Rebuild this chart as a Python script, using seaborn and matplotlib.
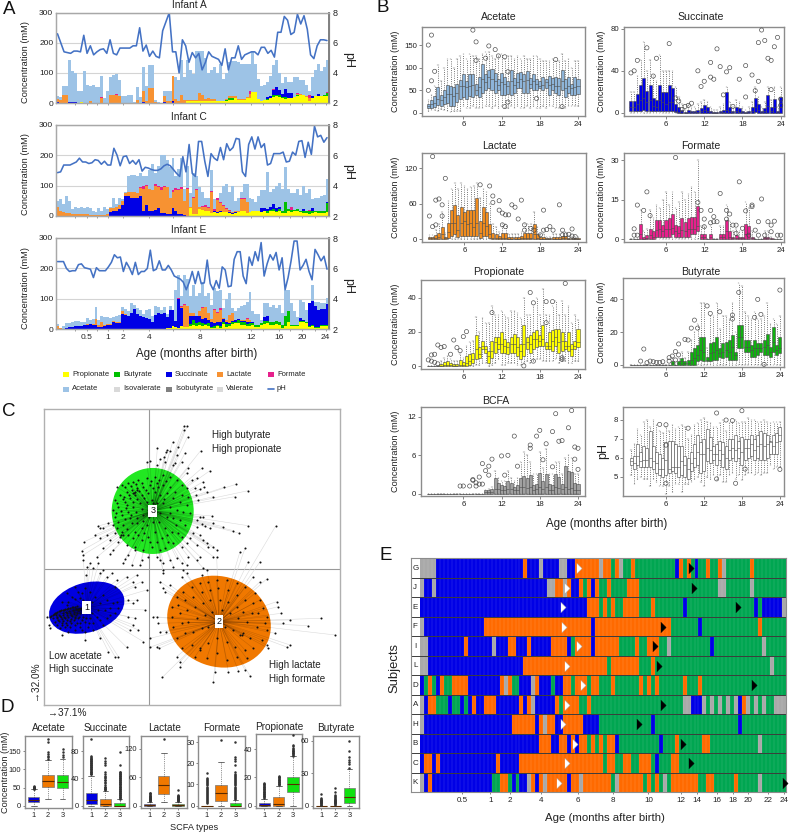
import numpy as np
import pandas as pd
import matplotlib
matplotlib.use('Agg')
import matplotlib.pyplot as plt
from matplotlib import font_manager
from matplotlib.collections import LineCollection
from matplotlib.colors import ListedColormap
from matplotlib.lines import Line2D
from matplotlib.patches import Ellipse, Rectangle
import seaborn as sns

W, H = 789, 833
sns.set_style('white')
# the figure's text is condensed; use the narrow cut when it is installed
installed = {f.name for f in font_manager.fontManager.ttflist}
NARROW = 'Liberation Sans Narrow' in installed
plt.rcParams['font.family'] = ['Liberation Sans Narrow', 'DejaVu Sans'] if NARROW else ['Liberation Sans', 'DejaVu Sans']
FS = 1.16 if NARROW else 1.0

Z10 = [0] * 10

# ---- panel A: stacked daily concentrations, three infants
total_A = [22,20,58,55,143,105,100,40,40,107, 60,58,60,52,52,90,15,40,88,92,
           95,75,22,24,26,26,2,54,20,120, 55,127,127,10,2,1,40,40,40,90,
           85,78,143,85,143,110,95,172,172,172, 150,100,110,120,100,130,80,100,135,140,
           140,135,130,130,130,130,170,130,80,55, 60,70,90,125,143,100,65,88,70,70,
           85,88,75,75,60,40,85,110,130,105,120,143]
prop_A = [0,0,0,0,0,0,0,0,3,0] + Z10 + Z10 + Z10 + [0,0,0,0,8,8,8,8,8,8] + [5,8,8,8,6,6,6,6,10,10] + \
         [15,10,10,10,15,15,35,36,12,8] + [10,10,15,20,22,20,18,12,15,15] + [20,22,25,25,20,5,15,22,22,22,22,22]
buty_A = Z10 + Z10 + Z10 + Z10 + Z10 + [0,0,0,0,0,0,0,5,7,7] + Z10 + [0,2,3,8,5,5,3,8,3,3] + [0,3,0,0,0,0,0,0,0,0,5,10]
succ_A = [3,0,0,0,3,3,3,0,0,0] + Z10 + [0,0,0,0,0,0,0,0,0,3] + [0,0,0,0,0,0,2,0,0,5] + Z10 + Z10 + Z10 + \
         [0,8,5,15,25,18,8,25,15,15] + [0,0,0,0,0,0,8,0,8,0,0,0]
lact_A = [10,10,25,28,0,0,0,0,0,0, 0,8,0,0,0,15,0,0,25,25, 25,22,0,0,0,0,0,10,0,38, 5,50,50,3,0,0,20,5,5,85,
          12,8,25,10,3,3,3,3,25,20, 8,8,4,4,2,2,2,2,5,5, 8,3,3,3,5,15,0,0,0,0] + Z10 + [0,5,5,3,2,12,0,0,0,0,0,0]
form_A = Z10 + [0,0,0,0,0,6,0,0,0,0] + [4,0,0,0,0,0,0,0,0,0] + Z10 + Z10 + Z10 + [0,0,0,0,0,10,0,0,0,0] + \
         [0,0,0,5,0,0,0,0,0,0] + [0,2,0,0,0,10,0,0,0,0,0,6]
ph_A = [6.6,6.0,5.4,5.35,5.3,5.45,5.45,5.4,6.5,5.3, 5.8,5.2,5.4,5.55,5.6,5.3,6.2,5.3,5.2,5.65,
        5.65,5.65,5.65,5.8,5.8,7.0,5.45,5.85,5.1,5.45, 5.1,5.0,6.8,7.4,8.0,5.4,5.4,4.0,6.2,5.8,
        4.7,5.35,5.0,5.3,4.2,4.7,5.4,5.1,5.0,4.9, 4.5,5.6,4.2,5.0,5.0,5.8,4.9,5.2,5.3,5.4,
        5.4,5.2,5.7,5.7,5.3,5.5,5.05,6.7,6.7,7.75, 7.5,6.55,6.7,7.9,7.25,7.8,6.9,5.2,4.95,5.8, 6.2,6.2,6.15]

total_C = [50,55,40,65,50,22,28,25,30,25, 28,25,15,12,25,18,28,22,30,58,
           40,60,55,80,130,135,135,130,140,130, 130,150,170,140,165,202,202,185,160,190,
           130,155,190,90,165,75,140,130,95,80, 60,60,150,55,45,75,100,105,80,100,
           50,60,80,105,105,60,55,45,65,85, 85,145,80,90,100,110,90,160,90,75,
           75,90,70,100,75,90,55,60,60,65,70,120]
prop_C = Z10 + Z10 + Z10 + Z10 + [0,0,0,0,0,25,5,5,22,20] + [15,15,10,12,10,12,12,12,10,8] + \
         [10,12,15,18,10,12,15,15,16,12] + [15,10,15,18,12,15,10,10,15,12] + [15,15,12,10,10,8,10,12,10,10,10,12]
buty_C = Z10 + Z10 + Z10 + Z10 + Z10 + Z10 + Z10 + [3,5,5,5,5,8,8,35,8,8] + [5,8,5,6,6,10,8,5,5,8,8,30]
succ_C = Z10 + [0,0,0,0,0,0,0,0,12,15] + [15,22,35,65,65,60,60,60,65,15] + [35,15,18,20,25,10,10,8,8,25] + \
         [15,6,5,3,0,0,0,0,0,0] + [0,0,0,5,3,3,2,2,2,2] + [2,2,0,0,0,0,0,0,0,15] + [8,8,8,15,8,5,0,0,0,0] + \
         [0,0,0,8,0,0,8,0,0,0,0,5]
lact_C = [30,18,12,10,10,5,6,5,5,5, 5,4,4,3,4,4,4,5,13,10, 15,13,15,10,13,18,18,15,28,75,
          65,75,67,80,70,75,85,87,52,55, 70,79,85,47,88,5,55,80,8,8, 15,10,70,0,40,28,18,8,5,2,
          5,3,40,37,35,0,0,0,0,0] + Z10 + [0,0,0,0,0,0,0,0,0,0,0,0]
form_C = Z10 + Z10 + [0,0,0,2,2,0,0,0,3,8] + [3,0,0,5,3,10,5,0,0,6] + [6,3,6,0,5,0,3,5,0,4] + \
         [5,5,3,6,5,3,3,3,2,2] + [0,0,3,3,0,0,0,0,0,0] + [0,0,0,0,0,0,0,0,0,8] + [0,0,0,0,0,3,0,0,0,0,0,0]
ph_C = [4.85,4.9,5.35,5.35,5.35,5.45,5.55,5.8,5.55,5.55, 5.45,5.5,5.7,5.65,5.4,5.6,5.35,5.35,6.45,6.0,
        5.3,5.9,5.95,5.45,5.65,5.4,5.7,4.95,5.2,5.15, 5.05,5.0,5.0,5.1,5.3,5.4,5.3,5.05,4.8,4.6,
        5.9,4.9,6.7,4.8,4.6,6.9,6.9,5.6,4.6,6.1, 5.8,5.65,6.5,5.7,6.75,6.3,6.5,7.1,7.05,4.9,
        4.6,6.7,7.2,6.4,7.2,6.5,6.75,5.35,5.45,6.1, 6.1,6.1,6.2,5.55,5.6,6.2,6.0,6.9,6.95,5.85,
        6.85,6.05,7.9,7.2,7.3,6.85,7.15]

total_E = [18,5,10,20,22,25,28,28,25,25, 38,32,35,72,30,45,42,40,38,42,
           45,48,72,68,60,88,80,70,65,50, 65,68,45,75,72,65,72,50,75,65,
           130,180,110,180,165,110,145,110,120,155, 110,120,80,135,125,130,70,100,120,70,
           60,70,75,80,90,122,60,50,50,30, 85,88,72,80,70,80,55,130,130,85,
           60,40,95,90,65,80,145,90,90,88,85,103]
prop_E = Z10 + Z10 + Z10 + [0,0,0,0,0,0,0,3,3,10] + [8,5,10,8,8,10,15,12,15,10] + [15,12,5,5,10,5,18,8,12,18] + \
         [20,22,15,15,10,12,15,8,8,15] + [18,20,15,15,18,15,5,10,25,12] + [12,12,25,25,20,8,10,5,5,10,10,10]
buty_E = Z10 + Z10 + Z10 + Z10 + [0,0,0,0,0,8,15,8,10,10] + [3,8,3,5,5,5,5,8,5,5] + [5,8,8,8,8,8,5,5,5,5] + \
         [8,8,8,8,8,8,10,35,35,3] + [3,3,3,3,3,3,3,3,3,3,3,3]
succ_E = [0,0,2,4,6,8,12,11,12,14, 15,16,14,15,8,8,12,14,15,25, 22,20,50,48,45,55,68,50,45,40,
          38,35,25,48,52,50,55,38,60,55, 20,95,60,0,0,25,15,25,20,15, 20,10,15,10,10,15,10,8,5,5,
          5,5,3,3,5,5,5,0,0,0, 15,15,0,0,0,0,0,0,0,0, 0,0,8,3,0,75,80,70,55,55,55,70]
lact_E = [10,3,0,0,0,0,0,0,0,0, 3,0,5,20,5,15,3,2,2,3, 3,5,10,2,0,0,0,0,0,0] + Z10 + \
         [0,0,3,72,70,10,10,0,15,35, 35,25,10,45,30,40,5,5,25,25, 0,0,5,5,12,5,0,0,0,0] + Z10 + [0,0,0,0,0,0,0,0,0,0,0,0]
form_E = Z10 + Z10 + Z10 + Z10 + [0,3,3,3,0,0,0,0,0,3] + [0,0,0,3,3,4,0,0,0,0] + [0,0,0,0,3,0,0,0,0,0] + Z10 + [0,0,0,0,0,0,0,0,0,0,0,0]
ph_E = [6.45,6.45,6.45,6.0,5.8,5.85,5.85,6.25,6.3,6.05, 6.0,5.95,5.4,6.05,5.85,5.85,5.85,6.1,6.4,6.9,
        6.7,6.75,5.8,6.4,6.05,5.6,6.4,5.6,5.8,5.8, 6.0,7.2,5.85,5.95,6.5,5.9,5.9,6.2,5.9,5.5,
        5.4,5.3,5.1,4.6,5.1,5.8,5.0,5.8,5.0,5.05, 6.55,5.0,4.6,5.2,4.7,6.1,5.9,4.8,4.85,6.6,
        7.1,7.1,5.5,5.0,6.75,6.2,7.1,6.5,7.7,5.5, 6.3,6.9,6.55,7.05,5.9,6.7,4.6,5.4,6.5,7.8,
        7.8,5.9,6.2,6.6,5.8,5.25,7.25,6.9,6.5,6.8,5.95]

age_major_pos = [9.8,16.9,22,31,48.2,65.5,74.8,82.6,90.5]
age_major_lab = ['0.5','1','2','4','8','12','16','20','24']
age_minor_pos = [5.9,13.2,39,56.5,69.4,78.4,86.8]

series_names = ['Propionate','Butyrate','Succinate','Lactate','Formate','Acetate']
series_cols = ['#ffff00','#00c000','#0000e6','#f79232','#e6208c','#9dc3e6']

# ---- panel B: monthly box statistics, 48 half-month bins
ace_q1 = [10,12,14,18,15,20,22,15,15,25, 30,35,30,38,35,40,35,45,50,55, 50,45,50,40,40,42,40,45,55,55, 45,45,55,50,50,55,50,55,40,50, 45,40,50,35,45,40,40,42]
ace_md = [15,20,22,30,28,35,42,42,38,45, 60,60,58,60,62,50,58,75,68,80, 75,70,62,68,65,60,70,62,68,75, 70,72,65,70,65,60,62,68,62,65, 60,60,70,55,60,55,58,60]
ace_q3 = [20,28,38,58,40,50,62,60,58,65, 72,85,70,85,85,65,80,108,85,95, 98,88,75,88,80,70,95,78,88,90, 85,92,78,85,75,70,80,75,82,78, 80,78,95,75,80,65,80,75]
ace_hi = [28,40,60,107,70,100,120,120,100,120, 125,130,120,130,125,125,120,130,135,135, 125,120,125,130,120,125,125,120,125,120, 125,120,120,125,125,120,115,115,115,120, 115,115,130,115,120,100,115,115]
ace_lo = [4,6,6,5,8,6,5,3,5,5, 5,15,10,10,15,10,10,10,15,15, 10,15,10,15,10,10,15,10,15,10, 10,15,10,15,10,10,15,10,15,15, 10,10,10,10,15,15,15,15]
ace_ox = [0,1,1,2,0,14,15,15,19,18,21,22,24,24,25,25,34,40,42]
ace_oy = [150,172,71,92,50,183,157,116,148,121,140,126,124,14,24,91,32,118,14]

suc_q1 = [2,2,2,2,3,2,2,2,2,2, 2,2,2,2,1,0,0,0,0,0, 0,0,0,0,0,0,0,0,0,0, 0,0,0,0,0,0,0,0,0,1, 0,0,0,0,0,0,0,0]
suc_md = [5,5,8,12,14,10,12,6,5,12, 10,8,10,10,2,1,0,0,1,1, 1,1,2,3,2,1,0,0,1,1, 3,2,1,2,1,1,0,1,2,5, 3,1,2,6,2,5,1,5]
suc_q3 = [11,11,18,26,33,21,26,14,12,26, 20,20,26,24,8,5,3,1,3,2, 2,3,4,7,5,2,1,1,2,3, 20,5,2,5,4,2,1,2,5,14, 8,2,4,17,5,13,2,15]
suc_hi = [20,20,35,50,68,40,50,35,30,55, 40,40,40,40,25,15,8,3,8,5, 5,8,10,12,10,5,3,3,5,8, 25,10,5,12,10,5,3,5,10,25, 15,5,10,25,12,25,5,25]
suc_lo = [0] * 48
suc_ox = [0,1,2,5,7,8,12,14,15,16,17,18,19,21,22,23,25,25,26,27,28,29,30,31,32,34,36,36,38,39,40,40,41,42,43,44,44,45,46,47,47]
suc_oy = [38,40,50,62,35,52,66,14,11,3,6,7,9,40,25,30,48,34,32,61,44,17,39,43,6,32,45,15,36,21,30,67,79,69,52,50,22,63,72,13,7]

lac_q1 = [0,0,0,0,0,0,2,5,8,3, 5,5,5,5,5,5,2,5,5,2] + [0] * 28
lac_md = [1,1,2,3,8,1,12,28,28,15, 28,30,25,28,20,28,10,28,22,8, 2,2,1,2,2,0,0,0,0,1, 2,2,2,8,2,0,0,0,0,0, 0,0,1,1,0,0,0,0]
lac_q3 = [3,3,6,10,20,4,28,50,57,40, 55,45,50,50,50,70,30,55,45,25, 10,8,5,10,10,3,3,3,3,5, 10,10,10,25,8,3,3,1,1,3, 3,3,5,5,2,1,1,1]
lac_hi = [6,6,15,25,45,10,65,85,95,85, 95,90,85,88,90,95,70,85,80,60, 25,20,12,25,25,8,8,8,8,12, 25,25,25,45,20,8,8,3,3,8, 8,8,12,12,5,3,3,3]
lac_lo = [0] * 48
lac_ox = [0,1,1,2,2,3,4,4,5,16,19,20,20,22,22,23,24,25,23,24,26,27,28,29,30,30,32,33,35,36,36,37,38,39,41,42,42,43,44,45,45,46]
lac_oy = [39,140,21,24,66,68,39,58,103,92,90,73,62,65,49,44,41,41,24,21,58,54,34,66,24,15,18,15,7,49,15,16,21,15,58,15,7,7,8,17,5,4]

for_q1 = [0,0,0,0,0,0,0,0,1,1, 1,1,1,2,1,1,1,1,1,2, 2,3] + [0] * 26
for_md = [0,0,0,2,0,.5,1.5,1,3.5,4, 3,4,4,4.5,3,2.5,3.5,3,4,4, 4,5,1,1,0,1,0,0,1,1, 3,1,.5,.5,.5,.5,2,2,.5,0, 0,0,.5,.5,0,0,0,0]
for_q3 = [0,0,0,6,1,1.5,4,3,7.5,7.5, 5.5,7.5,8,9.5,5.5,5,8,6.5,8,8.5, 8.5,12.5,2,2,0,2,0,0,2,2, 7.5,3,1,1.5,1,1,6,5,1,0, 0,0,1,1,.5,0,0,0]
for_hi = [0,0,0,11,3,4,11,8,13,12, 15,18,13,18,12,14,18,15,17,20, 18,30,5,5,0,5,0,0,5,5, 13,7,3,4,3,3,14,12,3,0, 0,0,3,3,1,0,0,0]
for_lo = [0] * 48
for_ox = [1,1,2,2,4,5,6,14,21,22,23,23,25,26,25,26,27,28,30,30,31,32,33,33,34,35,36,38,38,39,40,41,43,44,44,45,37,40,42,46,47]
for_oy = [4,1.6,13,1.6,11,18,9,31,14,11,7.7,4.8,11,8.6,6.3,6.7,6.7,17.4,11,7.7,9.6,5.4,5.4,2.3,21.8,4.2,10.8,13,12.4,3.5,6.7,15.3,6.7,2.9,5.4,6.9,1.6,1.6,1.6,1.6,1.6]

pro_q1 = Z10 + [0,0,0,1,2,4,5,10,8,2, 5,8,10,8,8,7,8,8,6,4, 6,10,8,10,11,12,12,10,10,9, 12,8,9,10,9,6,10,11]
pro_md = [0,0,0,0,0,.5,1,.5,0,0, 1,.5,2,3,4,10,7,12,10,6, 9,14,13,13,12,11,13,13,11,9, 13,14,13,16,16,15,16,12,12,15, 17,14,15,12,12,10,12,14]
pro_q3 = [0,0,0,0,1.5,2.5,3,2,1.5,1.5, 3.5,2.5,6,7,8,18,11,15,12,9, 15,17,17,20,16,14,17,19,17,13, 24,17,18,20,21,18,24,14,20,21, 22,22,20,15,20,13,15,22]
pro_hi = [0,0,0,0,3,5,6,4,3,3, 7,5,12,14,15,29,20,28,25,25, 35,30,30,32,30,28,32,32,31,28, 40,30,30,35,40,30,45,30,30,35, 38,30,38,30,35,25,30,27]
pro_lo = Z10 + [0,0,0,0,0,1,1,2,2,0, 1,2,4,1,1,2,2,2,1,1, 2,3,2,3,4,4,3,3,3,3, 4,2,3,3,2,2,3,3]
pro_ox = [0,1,1,2,2,3,4,5,3,7,8,9,10,11,12,20,30,32,33,33,37,37,39,42,42,43]
pro_oy = [3.7,6.6,3,7,2.3,12.4,11,11.5,1.4,7,15.3,10.9,9.1,17.3,20.2,31.3,.2,43,37,3,37.7,25.4,37.7,5,4,48.3]

but_q1 = Z10 + Z10 + [0,2,3,2,2,2,3,3,5,4, 5,3,3,3,10,10,8,8,5,5, 6,8,6,6,5,8,6,7]
but_md = Z10 + [0,0,0,1,0,1,2,1,1,3, 4,6,9,8,3,7,8,9,7,8, 9,8,11,6,17,17,11,11,9,10, 10,10,11,12,8,14,9,10]
but_q3 = Z10 + [0,0,0,2,0,2,4,2,3,8, 10,12,17,17,5,13,14,17,10,13, 14,15,18,8,24,24,15,15,12,15, 13,13,15,19,11,23,12,17]
but_hi = Z10 + [0,0,0,4,1,4,8,4,8,15, 20,25,38,38,10,30,30,38,22,30, 30,28,38,20,50,48,32,30,28,32, 28,28,30,38,25,28,25,30]
but_lo = [0] * 48
but_ox = [3,4,5,6,7,8,9,10,12,12,13,14,14,15,15,17,18,19,20,21,24,25,28,32,32,34,39,40,41,42,47]
but_oy = [2.2,9.6,1.2,2.2,1.8,1.4,1.4,1.8,2.2,4.3,5.3,8,2.9,6,12.7,15.5,15.1,22.4,27.3,22.4,36,31.4,32.4,30.4,28,44.3,29,40,30.8,.2,45.7]

bcf_q1 = [0] * 48
bcf_md = [0] * 18 + [.2,.3,.3,.8,.8,.6,.5,.8,.7,.5, .6,1,1,.9,1,.6,.7,1,.8,1, .6,.5,1,.9,.7,1,.8,.9,.6,.6]
bcf_q3 = [0] * 18 + [.5,.6,.7,2.5,1.6,1.4,1.2,2,1.6,1.1, 1.4,2.5,2.7,2.4,2.9,1.4,1.5,3.2,2,3, 1.5,1.3,3,2.6,1.5,4.3,3.6,3.4,1.6,1.5]
bcf_hi = [0] * 18 + [.5,.8,1,3.5,2.5,2,2,3.5,2.5,2, 2.5,5,6.5,6,5,3,3,6.5,4,7, 3,3,5,5,3,5.5,6,5.5,3,3]
bcf_lo = [0] * 48
bcf_ox = [10,11,13,14,14,15,15,16,16,17,17,18,19,19,20,23,24,25,27,28,32,32,34,35,36,37,39,39,40,41,42,44,45,46,46,47,47]
bcf_oy = [1.2,1.2,1.2,2.2,2.1,1.2,1.7,1.5,2.6,4.7,1.5,3.6,4.3,2.9,5.4,5.9,2.9,6,9,4.3,7.1,7.6,9,9.9,5.3,7.8,9.7,4.2,12.5,8.2,8.3,10.3,13,7.3,5.4,7.1,3.8]

ph_q1 = [5.6,5.4,5.6,5.5,5.5,5.5,5.5,5.4,5.2,5.1, 5.0,5.1,5.2,5.3,5.2,5.0,5.1,5.0,4.9,5.3, 5.5,5.6,5.2,5.3,5.8,5.7,5.9,5.6,5.9,5.5, 5.4,5.9,6.0,5.8,6.0,5.6,5.9,6.0,6.1,5.9, 6.0,5.9,5.9,6.0,6.2,6.2,6.2,6.9]
ph_md = [5.8,5.7,6.1,5.8,5.9,5.9,6.0,5.8,5.7,5.4, 5.4,5.9,5.4,5.5,5.5,5.5,5.8,5.6,5.4,5.7, 6.0,6.3,6.2,6.2,6.5,6.4,6.2,6.2,6.4,6.2, 6.0,6.4,6.5,6.4,6.5,6.3,6.5,6.5,6.7,6.4, 6.6,6.7,6.6,6.7,6.8,6.6,6.8,7.2]
ph_q3 = [6.0,6.1,6.7,6.3,6.6,6.5,7.4,6.6,6.3,6.2, 6.0,6.8,6.9,6.9,6.7,6.6,6.6,6.1,6.0,6.3, 6.7,7.2,6.8,7.0,7.5,7.1,6.6,6.7,6.9,6.8, 6.6,7.0,7.0,7.2,6.9,7.1,7.0,7.0,7.2,7.0, 7.2,7.4,7.3,7.2,6.9,7.2,7.3,7.6]
ph_hi = [6.4,6.7,7.5,7.2,7.9,8.0,7.6,8.0,7.7,7.4, 7.3,7.6,7.4,7.7,7.5,7.6,7.7,7.6,7.0,7.2, 7.7,7.8,8.0,8.1,7.9,7.8,7.6,7.6,7.8,8.0, 7.4,7.8,7.9,8.0,7.8,7.9,7.9,8.1,8.0,8.0, 7.9,7.9,8.0,7.9,7.8,7.9,7.9,7.9]
ph_lo = [5.1,4.6,4.9,5.0,4.9,4.9,4.5,4.9,4.7,4.5, 4.5,4.1,4.5,4.2,4.6,4.6,4.2,4.6,4.6,4.7, 4.9,5.0,4.7,4.5,5.0,4.9,5.1,4.8,5.1,4.7, 4.7,5.1,5.2,4.9,5.1,4.8,5.1,5.2,5.2,5.1, 5.2,5.1,5.2,5.2,5.6,5.4,5.5,5.5]
ph_ox = [9,11,11,11,18,27,27,30,32,33,35,36,47]
ph_oy = [7.75,7.73,6.66,4.65,7.55,8.35,4.88,7.98,7.95,4.65,8.47,5.4,5.38]

# ---- panel C: ordination scores per SCFA type
c1_pts = [(150,650),(158,645),(165,640),(172,636),(180,632),(188,630),(195,628),(205,625),(215,622),(225,620),(160,655),(170,650),(180,648),(190,645),(200,640),(210,638),(222,635),(235,630),(165,665),(175,660),(185,658),(195,655),(205,650),(215,648),(228,645),(240,640),(170,675),(185,670),(198,668),(210,662),(222,660),(235,655),(248,650),(180,685),(195,682),(210,680),(225,675),(240,668),(255,665),(205,695),(225,690),(245,690),(265,680),(280,670),(300,660),(320,655),(345,640),(355,625),(340,610),(320,600),(300,610),(285,590),(270,575),(255,565),(235,575),(215,590),(205,605),(185,605),(225,598),(240,595),(200,580),(250,600),(295,630),(315,630),(330,625),(275,640),(290,650),(270,655),(225,650),(200,615),
          (154,648),(162,643),(169,638),(176,634),(184,631),(192,629),(200,627),(210,624),(220,621),(230,619),(238,626),(168,646),(178,644),(188,640),(198,636),(208,632),(218,630),(228,628),(172,654),(182,652),(192,650),(202,646),(212,644),(222,642),(232,638),(178,664),(190,662),(202,660),(214,656),(226,654),(238,650),(186,676),(200,674),(214,670),(230,668),(246,660),(258,655),(266,668),(240,680),(255,695),(280,690),(310,675),(330,645),(350,605),(310,585),(275,605),(245,580),(225,560),
          (250,480),(260,500),(258,525),(270,490),(280,505),(295,490),(310,510),(300,520),(320,530),(335,520),(350,540),(345,560),(380,530),(410,525),(425,545),(400,545),(405,560),(440,570),(385,600),(410,600),(400,610),(435,630),(385,650),(405,655),(400,675),(415,690),(390,690),(430,725),(380,742),(345,770),(355,770),(325,755),(300,715),(255,720),(185,705),(150,685),(147,675),(140,650)]
c2_pts = [(530,590),(550,575),(575,560),(600,550),(625,545),(650,540),(680,540),(710,550),(735,560),(765,580),(780,600),(790,625),(515,620),(535,615),(555,600),(580,590),(605,575),(630,570),(655,565),(685,570),(710,585),(735,600),(760,610),(775,640),(800,650),(515,650),(540,640),(560,630),(585,620),(610,610),(630,600),(660,600),(685,605),(710,620),(730,635),(755,640),(795,670),(520,680),(545,670),(565,665),(590,655),(615,645),(635,635),(665,630),(690,640),(715,655),(740,665),(770,680),(800,690),(530,715),(555,700),(580,695),(605,685),(625,680),(645,670),(675,680),(700,690),(720,705),(750,715),(785,720),(545,745),(575,735),(600,745),(625,730),(650,715),(680,725),(705,740),(735,750),(760,745),(585,770),(620,775),(650,760),(680,780),(710,770),(740,775),(600,750),(725,705),(728,700),
          (460,650),(470,652),(475,670),(480,695),(497,695),(450,715),(450,742),(470,740),(478,745),(487,832),(530,770),(540,785),(540,800),(640,845),(685,815),(645,815),(750,828),(735,810),(715,812),(800,735),(862,742),(870,735),(805,745),(825,700),(830,605),(835,620),(843,640),(964,655),(925,677),(1005,705),(850,670),(870,660),(780,545),(800,537),(760,530),(745,485),(827,378),(735,445),(720,455),(780,485),(650,470),(620,510),(605,525),(550,510),(560,520),(545,530),(510,555),(480,545),(490,565),(495,575)]
c3_pts = [(350,260),(365,255),(385,250),(400,245),(415,240),(440,235),(465,230),(490,225),(510,230),(530,240),(545,255),(560,265),(345,300),(360,285),(380,275),(395,270),(410,265),(430,260),(450,255),(470,250),(490,255),(510,260),(525,275),(545,285),(565,290),(340,330),(355,320),(375,305),(390,295),(405,285),(425,285),(445,280),(465,275),(480,285),(500,280),(520,295),(540,305),(560,315),(345,350),(365,345),(385,335),(400,320),(420,310),(440,305),(455,300),(470,310),(490,310),(510,320),(530,330),(550,335),(570,340),(350,385),(370,375),(395,370),(410,355),(430,345),(445,330),(462,345),(480,340),(500,350),(520,355),(540,360),(555,375),(360,410),(385,405),(405,395),(425,385),(440,375),(460,365),(478,365),(495,385),(515,395),(535,400),(545,410),(380,435),(405,440),(425,420),(445,410),(465,395),(485,415),(505,425),(520,430),(430,450),(455,440),(480,450),(495,445),(368,405),(362,405),(410,270),(404,275),(398,280),(452,320),(458,310),(462,325),(448,350),
          (375,262),(392,258),(407,252),(425,248),(452,242),(478,240),(498,242),(372,290),(388,285),(402,278),(418,272),(438,270),(458,265),(475,262),(352,310),(368,298),(382,315),(398,305),(412,298),(432,295),(348,338),(362,332),(378,325),(392,345),(408,335),(425,328),(355,365),(375,358),(390,355),(412,370),(428,362),(365,395),(382,388),(398,415),(415,405),(432,398),(450,425),(470,425),(500,405),(528,375),(510,338),(492,298),
          (552,78),(562,77),(553,90),(563,110),(518,126),(472,143),(533,140),(501,150),(498,156),(510,152),(532,165),(555,160),(602,152),(493,170),(480,178),(495,185),(450,182),(440,185),(470,195),(525,190),(520,195),(545,185),(563,205),(560,218),(605,205),(630,212),(575,240),(590,235),(610,245),(612,262),(708,253),(745,272),(672,262),(620,275),(585,265),(640,290),(705,290),(595,300),(600,268),(588,285),
          (635,348),(610,352),(600,350),(590,360),(640,370),(743,377),(605,372),(615,378),(590,380),(630,385),(668,380),(700,392),(718,400),(580,400),(600,405),(610,420),(625,440),(640,440),(650,450),(620,430),(590,435),(570,415),(560,430),(545,440),
          (295,378),(300,385),(310,385),(325,370),(340,375),(285,405),(320,405),(345,400),(300,415),(330,420),(310,445),(355,425),(340,450),(253,425),(245,452),(250,465),(290,472),(330,462),(375,478),(385,465),(405,450),(395,495),(370,490),(425,480),(420,495),(445,470),(470,470),(480,480),(490,490),(488,510),(490,520),(510,480),(530,475),(545,490),(520,500),(565,470),(560,495),(600,470),(590,480),(610,505),(640,470)]
c_centers = [(260,623),(657,665),(458,333)]

# ---- panel D: box stats per SCFA type (lo, q1, median, q3, hi)
d_titles = ['Acetate','Succinate','Lactate','Formate','Propionate','Butyrate']
d_type1 = [[0,10,16,24,45],[0,2,8,19,44],[0,0,1,3,8],[0,0,0,0,0],[0,0,.5,2,5],[0,0,0,0,0]]
d_type2 = [[18,52,67,84,125],[0,0,3,9,22],[8,25,43,63,110],[0,2,6,9.5,20.5],[0,0,1,6,14],[0,0,0,0,0]]
d_type3 = [[18,50,66,84,128],[0,0,0,4,9],[0,0,1,3,8],[0,0,0,1.2,2.8],[0,10,15.5,20,35],[0,2,8,16,34]]
d_fly1 = [[46,47,48,49,50,51,52,53,55],[46,47,48,49,50,51,52,53,54,55,56,57,58,59,60,61,62,63,64,65,66,67,68,69,70,71,72,98],[9,10,11,12,13,14,15,16,17,18,19,20,21,22,24,26,27],
          [1,1.5,2,2.5,3,3.5,4,4.5,5,5.5,6,6.5,7,7.5,8,8.5,9,9.5,10,10.5,11,11.5,12,12.5,13,15.5],[5.5,6,6.5,7,7.5,8,8.5,9,9.5,10,10.5,11,11.5,12,12.5,13,13.5,14,14.5,15,15.5,16],[.5,1,1.5,2,2.5,3,3.5,4,4.5,5,5.5,6,7,11]]
d_fly2 = [[128,133,138,143,148,175,183],[23,24,25,26,27,28,30,33,35,37,38,40,42,43,46,50,60,63,66,70],[140],[31],[14.5,15,15.5,16,16.5,17,17.5,18,18.5,19,19.5,20,20.5,21],[1,1.5,2,2.5,3,3.5,4,4.5,5,5.5,6,7,8,9,10,13,16]]
d_fly3 = [[135,140,148,155],[10,11,12,13,14,15,16,17,18,19,20,21,22,23,24,25,26,27,28,29,30,31,32,33,34,35,36,37,38,39,40,41,42,43,44,45,46,47,48,49,50,60,78],[9,10,11,12,13,14,15,16,17,18,19,20,21,22,33],
          [3,3.5,4,4.5,5,5.5,6,6.5,7,7.5,8,8.5,9,9.5,10,10.5,11,11.5,12,12.5,13,13.5,14,14.5,15,16,19,21,22,23,30],[35.5,36,36.5,37,37.5,38,38.5,39,39.5,40,41,42,43,50],[35,38,40,42,45,50,60]]
d_ylim = [(-7,192),(-3.9,102),(-5.6,146.7),(-1.3,32.9),(-1.9,50.8),(-2.5,64.6)]
d_ticks = [[0,50,100,150],[0,40,80],[0,60,120],[0,10,20,30],[0,20,40],[0,30,60]]
d_frame = [(25,72,736),(82.7,128.7,736),(141,187.3,736),(198.3,244.7,736),(255.7,302.3,734),(312.7,358.7,735.7)]

# ---- panel E: cluster state per sample, (state, last column) runs; g=gray b=blue o=orange n=green
subjects = ['G','J','E','F','I','L','D','A','H','B','C','K']
runs_G = [('g',4),('b',26),('o',27),('b',30),('g',31),('b',35),('g',37),('b',39),('o',45),('g',46),('o',48),('n',49),('o',50),('g',51),('n',53),('o',54),('n',64),('b',65),('o',66),('n',67),('o',68),('n',69),('b',70),('n',72),('o',73),('n',75),('o',76),('g',77),('n',83),('o',84),('n',92)]
runs_J = [('g',1),('b',3),('g',4),('b',32),('g',34),('o',36),('g',37),('o',38),('b',40),('o',41),('n',42),('o',43),('b',44),('o',45),('n',47),('o',48),('n',52),('o',55),('n',75),('g',77),('n',83),('g',84),('n',92)]
runs_E = [('b',42),('o',45),('n',46),('o',47),('n',48),('o',49),('n',51),('o',55),('n',58),('o',59),('n',66),('b',67),('n',84),('b',85),('n',86),('b',91),('g',92)]
runs_F = [('g',1),('b',16),('o',43),('b',44),('o',63),('n',70),('b',71),('n',85),('o',86),('n',92)]
runs_I = [('g',2),('b',11),('o',12),('b',18),('g',19),('b',22),('o',24),('b',27),('o',28),('b',33),('o',37),('b',38),('n',39),('o',43),('b',44),('o',50),('n',54),('o',55),('n',57),('o',60),('n',62),('g',63),('n',73),('b',74),('n',86),('g',87),('n',92)]
runs_L = [('g',2),('b',26),('o',47),('n',48),('o',55),('n',58),('o',59),('n',88),('g',89),('n',92)]
runs_D = [('b',1),('n',2),('o',3),('n',4),('b',5),('o',6),('n',8),('o',12),('b',20),('o',21),('g',22),('o',23),('n',25),('b',28),('g',29),('o',30),('b',33),('n',34),('b',36),('o',38),('n',39),('o',42),('n',43),('o',45),('n',48),('o',49),('n',55),('o',56),('n',57),('o',58),('n',59),('o',60),('n',66),('o',67),('n',70),('o',71),('n',92)]
runs_A = [('g',1),('b',2),('o',4),('n',7),('b',8),('n',10),('b',11),('n',12),('b',13),('o',14),('b',16),('o',19),('b',25),('o',26),('b',27),('o',28),('g',29),('b',34),('o',35),('n',36),('o',40),('n',42),('o',43),('n',66),('g',68),('b',71),('g',72),('n',73),('g',74),('n',75),('g',76),('n',77),('g',78),('n',79),('g',80),('b',81),('o',82),('g',83),('n',84),('g',85),('n',86),('g',87),('n',89),('g',92)]
runs_H = [('g',1),('b',23),('o',29),('b',30),('o',31),('g',32),('o',34),('b',36),('o',41),('b',45),('n',58),('b',59),('n',80),('b',81),('n',92)]
runs_B = [('b',30),('o',33),('b',35),('o',37),('b',38),('o',39),('b',40),('o',42),('n',43),('o',44),('n',45),('o',46),('n',47),('o',49),('b',50),('n',60),('b',61),('n',64),('o',65),('n',71),('o',73),('n',85),('g',86),('n',92)]
runs_C = [('b',1),('o',3),('b',4),('o',5),('b',19),('o',20),('b',25),('o',46),('n',47),('o',49),('n',51),('o',53),('n',55),('o',58),('n',59),('b',60),('n',63),('o',65),('n',92)]
runs_K = [('g',1),('b',2),('o',3),('b',18),('n',20),('o',22),('n',23),('b',24),('n',25),('b',27),('g',28),('o',29),('b',30),('o',31),('g',32),('o',37),('b',38),('o',40),('g',41),('o',48),('n',49),('g',50),('o',56),('n',57),('o',58),('n',59),('o',60),('n',61),('g',62),('n',63),('o',70),('n',72),('o',74),('n',79),('o',80),('n',85),('g',86),('n',92)]
all_runs = [runs_G,runs_J,runs_E,runs_F,runs_I,runs_L,runs_D,runs_A,runs_H,runs_B,runs_C,runs_K]
white_marks = [40.07,37.05,36.04,36.2,40.07,37.05,41.07,37.05,36.04,39.06,37.05,35.04]
black_marks = [68.06,68.9,79.97,61.1,59.1,60.1,84,61,55.15,66.05,68.15,91.8]
e_tick_pos = [10.6,17.7,22.6,30.5,39.6,48.4,57.4,65.6,69.6,74.6,78.6,82.5,87.4,91.4]
e_tick_lab = ['0.5','1','2','4','6','8','10','12','14','16','18','20','22','24']


def ax_px(left, top, right, bottom):
    return fig.add_axes([left / W, 1 - bottom / H, (right - left) / W, (bottom - top) / H])


def ptext(x, y, s, fontsize=7, **kw):
    kw.setdefault('ha', 'center')
    kw.setdefault('va', 'center')
    kw.setdefault('color', '#222222')
    fig.text(x / W, 1 - y / H, s, fontsize=fontsize * FS, **kw)


def frame(ax, col='#8c8c8c', lw=1.0):
    for sp in ax.spines.values():
        sp.set_visible(True)
        sp.set_color(col)
        sp.set_linewidth(lw)


fig = plt.figure(figsize=(W / 100, H / 100), dpi=100)

# panel A
infants = [('A', 12.7, 103, total_A, prop_A, buty_A, succ_A, lact_A, form_A, ph_A, False),
           ('C', 124.7, 216, total_C, prop_C, buty_C, succ_C, lact_C, form_C, ph_C, False),
           ('E', 238, 329.3, total_E, prop_E, buty_E, succ_E, lact_E, form_E, ph_E, True)]
for name, top, bottom, total, prop, buty, succ, lact, form, ph, show_lab in infants:
    ax = ax_px(56, top, 328.5, bottom)
    df = pd.DataFrame({'Propionate': prop, 'Butyrate': buty, 'Succinate': succ, 'Lactate': lact, 'Formate': form})
    tops = df.cumsum(axis=1)
    tops['Acetate'] = np.maximum(total, tops['Formate'])
    tops['sample'] = np.arange(len(tops))
    # tallest layer first so the shorter ones sit on top of it
    for sname, col in list(zip(series_names, series_cols))[::-1]:
        sns.barplot(data=tops, x='sample', y=sname, color=col, width=1, saturation=1, errorbar=None, linewidth=0, ax=ax)
    ax.set_xlim(-0.5, 91.5)
    ax.set_ylim(0, 300)
    ax.set_yticks([0, 100, 200, 300])
    ax.set_xlabel('')
    ax.set_ylabel('')
    ax.set_axisbelow(True)
    ax.grid(axis='y', color='#d4d4d4', lw=0.8)
    ax.grid(axis='x', visible=False)
    ax.set_xticks(age_major_pos)
    ax.set_xticklabels(age_major_lab if show_lab else [])
    ax.set_xticks(age_minor_pos, minor=True)
    ax.tick_params(axis='x', which='both', bottom=True, length=1.5, width=0.4, color='#555555', labelsize=6 * FS, pad=2)
    ax.tick_params(axis='y', labelsize=6 * FS, length=0, pad=2, labelcolor='#222222')
    frame(ax, '#a8a8a8', 0.9)
    ax2 = ax.twinx()
    sns.lineplot(x=np.linspace(0, 91, len(ph)), y=ph, color='#4472c4', lw=1.15, ax=ax2)
    ax2.set_ylim(2, 8)
    ax2.set_yticks([2, 4, 6, 8])
    ax2.tick_params(axis='y', labelsize=6.5 * FS, length=0, pad=3, labelcolor='#222222')
    frame(ax2, '#a8a8a8', 0.9)
    ax2.spines['right'].set_color('#808080')
    ax2.spines['right'].set_linewidth(1.4)
    ptext(189, top - 7.7, 'Infant ' + name, fontsize=7.3)
    ptext(25, (top + bottom) / 2 + 4, 'Concentration (mM)', fontsize=6.7, rotation=90)
    ptext(348, (top + bottom) / 2 + 2, 'pH', fontsize=9, rotation=270)
ptext(197, 354, 'Age (months after birth)', fontsize=8.3)

# legend of panel A
legend_rows = [[('Propionate', '#ffff00'), ('Butyrate', '#00c000'), ('Succinate', '#0000e6'), ('Lactate', '#f79232'), ('Formate', '#e6208c')],
               [('Acetate', '#9dc3e6'), ('Isovalerate', '#d9d9d9'), ('Isobutyrate', '#808080'), ('Valerate', '#d9d9d9'), ('pH', None)]]
legend_x = [66, 117, 169, 220, 271]
for ly, row in zip([374, 389], legend_rows):
    for lx, (lab, col) in zip(legend_x, row):
        if col is None:
            fig.add_artist(Line2D([(lx - 3) / W, (lx + 3) / W], [1 - ly / H, 1 - ly / H], color='#4472c4', lw=1.2))
        else:
            fig.add_artist(Rectangle(((lx - 3) / W, 1 - (ly + 2.5) / H), 6 / W, 5 / H, color=col, lw=0, transform=fig.transFigure))
        ptext(lx + 6, ly, lab, fontsize=5.5, ha='left')

# panel B
months = np.arange(48)
b_panels = [('Acetate', '#8db4d9', ace_lo, ace_q1, ace_md, ace_q3, ace_hi, ace_ox, ace_oy, (421.7, 26.7, 585, 115.7), (-2.07, 49.2), (-6, 190.5), [0,50,100,150], (499, 17.3)),
            ('Succinate', '#0000e6', suc_lo, suc_q1, suc_md, suc_q3, suc_hi, suc_ox, suc_oy, (624.3, 27.3, 784.3, 115.7), (-2.09, 48.13), (-2.9, 81.6), [0,40,80], (701, 17.3)),
            ('Lactate', '#f08c1e', lac_lo, lac_q1, lac_md, lac_q3, lac_hi, lac_ox, lac_oy, (422.3, 153.3, 586, 242.3), (-2.26, 49.4), (-5.6, 145.5), [0,60,120], (499, 146)),
            ('Formate', '#e6208c', for_lo, for_q1, for_md, for_q3, for_hi, for_ox, for_oy, (624.3, 153.3, 784.3, 242.3), (-2.09, 48.13), (-1.1, 32.6), [0,15,30], (701, 146)),
            ('Propionate', '#ffff00', pro_lo, pro_q1, pro_md, pro_q3, pro_hi, pro_ox, pro_oy, (421, 280, 585, 369), (-2.28, 49.2), (-1.6, 50.3), [0,20,40], (499, 272)),
            ('Butyrate', '#10b010', but_lo, but_q1, but_md, but_q3, but_hi, but_ox, but_oy, (623.3, 278.3, 784, 367.3), (-2.48, 48.3), (-1.6, 52.9), [0,20,40], (701, 272)),
            ('BCFA', '#a0a0a0', bcf_lo, bcf_q1, bcf_md, bcf_q3, bcf_hi, bcf_ox, bcf_oy, (421, 407.3, 585, 496), (-2.28, 49.2), (-.36, 13.5), [0,6,12], (496, 400.7)),
            ('pH', '#ffffff', ph_lo, ph_q1, ph_md, ph_q3, ph_hi, ph_ox, ph_oy, (623.3, 407.3, 784, 496), (-2.48, 48.3), (3.98, 8.65), [5,6,7,8], None)]
for name, col, lo, q1, md, q3, hi, ox, oy, box, xl, yl, yt, title_xy in b_panels:
    ax = ax_px(*box)
    # five values per bin: their quartiles are the box statistics
    long_df = pd.DataFrame({'bin': np.tile(months, 5), 'value': np.concatenate([lo, q1, md, q3, hi])})
    sns.boxplot(data=long_df, x='bin', y='value', color=col, saturation=1, width=0.95, linewidth=0.4, linecolor='#4a4a4a',
                whis=(0, 100), showfliers=False, whiskerprops={'linestyle': ':', 'linewidth': 0.6},
                capprops={'linewidth': 0.3}, ax=ax)
    sns.scatterplot(x=ox, y=oy, s=9, facecolor='none', edgecolor='#444444', linewidth=0.45, ax=ax, zorder=5)
    ax.set_xlim(*xl)
    ax.set_ylim(*yl)
    ax.set_xticks([11, 23, 35, 47])
    ax.set_xticklabels(['6', '12', '18', '24'])
    ax.set_yticks(yt)
    ax.tick_params(axis='both', bottom=True, left=True, length=2, width=0.5, color='#555555', labelsize=5.6 * FS, pad=1.5, labelcolor='#222222')
    ax.set_xlabel('')
    ax.set_ylabel('')
    frame(ax)
    if title_xy is not None:
        ptext(title_xy[0], title_xy[1], name, fontsize=7.6)
        ptext(396 if box[0] < 500 else 602, (box[1] + box[3]) / 2, 'Concentration (mM)', fontsize=6.6, rotation=90)
    else:
        ptext(603, 451, 'pH', fontsize=9, rotation=90)
ptext(607, 524, 'Age (months after birth)', fontsize=8.3)

# panel C
ax = ax_px(43.7, 409.3, 340, 705.3)
ax.set_xlim(131, 1020)
ax.set_ylim(916, 28)
ell_specs = [((260, 623), 232, 148, -17, '#0000e0', c1_pts), ((657, 665), 316, 270, 20, '#f07800', c2_pts), ((458, 333), 246, 258, 0, '#22e822', c3_pts)]
ax.axvline(448, color='#999999', lw=0.8, zorder=1)
ax.axhline(508, color='#999999', lw=0.8, zorder=1)
for center, (xy, w, h, ang, col, pts) in zip(c_centers, ell_specs):
    segs = [[center, p] for p in pts]
    ax.add_collection(LineCollection(segs, colors='#dadada', linewidths=0.4, zorder=2))
    ell = Ellipse(xy, w, h, angle=ang, facecolor=col, edgecolor='none', zorder=3)
    ax.add_patch(ell)
    inner = LineCollection(segs, colors='#000000', alpha=0.16, linewidths=0.4, zorder=4)
    ax.add_collection(inner)
    inner.set_clip_path(ell)
    pts_arr = np.array(pts)
    sns.scatterplot(x=pts_arr[:, 0], y=pts_arr[:, 1], s=2.2, color='#111111', linewidth=0, ax=ax, zorder=5)
for num, center in enumerate(c_centers, start=1):
    ax.text(center[0], center[1], str(num), fontsize=6.5, ha='center', va='center', zorder=6, color='#111111',
            bbox={'boxstyle': 'square,pad=0.2', 'fc': 'white', 'ec': 'none'})
ax.set_xticks([])
ax.set_yticks([])
ax.set_xlabel('')
ax.set_ylabel('')
frame(ax, '#b0b0b0', 1.0)
ptext(211.7, 434.7, 'High butyrate', fontsize=7.1, ha='left')
ptext(211.7, 449, 'High propionate', fontsize=7.1, ha='left')
ptext(49, 655.7, 'Low acetate', fontsize=7.1, ha='left')
ptext(49, 669.5, 'High succinate', fontsize=7.1, ha='left')
ptext(268.7, 665, 'High lactate', fontsize=7.1, ha='left')
ptext(268.7, 679, 'High formate', fontsize=7.1, ha='left')
ptext(35, 681, '→32.0%', fontsize=7.2, rotation=90)
ptext(67, 712.5, '→37.1%', fontsize=7.2)

# panel D
type_cols = ['#0000e0', '#f07800', '#10e010']
type_names = ['1', '2', '3']
for i, title in enumerate(d_titles):
    left, right, top = d_frame[i]
    ax = ax_px(left, top, right, 808.3)
    box_df = pd.DataFrame({'type': np.repeat(type_names, 5), 'value': d_type1[i] + d_type2[i] + d_type3[i]})
    sns.boxplot(data=box_df, x='type', y='value', hue='type', palette=type_cols, saturation=1, width=0.8, linewidth=0.5, legend=False,
                linecolor='#777777', whis=(0, 100), showfliers=False, whiskerprops={'linestyle': ':', 'color': '#333333'},
                capprops={'color': '#333333'}, medianprops={'color': '#5a2a00', 'linewidth': 0.8}, ax=ax)
    fly_df = pd.DataFrame({'type': ['1'] * len(d_fly1[i]) + ['2'] * len(d_fly2[i]) + ['3'] * len(d_fly3[i]),
                           'value': d_fly1[i] + d_fly2[i] + d_fly3[i]})
    sns.stripplot(data=fly_df, x='type', y='value', order=type_names, jitter=False, color='#333333', size=1.8, ax=ax, zorder=5)
    ax.set_xlim(-0.6, 2.65)
    ax.set_ylim(*d_ylim[i])
    ax.set_yticks(d_ticks[i])
    ax.tick_params(axis='both', bottom=True, left=True, length=1.5, width=0.5, color='#555555', labelsize=5.4 * FS, pad=1.2, labelcolor='#222222')
    ax.set_xlabel('')
    ax.set_ylabel('')
    frame(ax, '#8c8c8c', 1.0)
    ptext((left + right) / 2, top - 8 if i != 4 else top - 7, title, fontsize=7.2)
ptext(5.5, 772, 'Concentration (mM)', fontsize=6.6, rotation=90)
ptext(194, 827, 'SCFA types', fontsize=6.6)

# panel E
state_code = {'g': 0, 'b': 1, 'o': 2, 'n': 3}
state_matrix = []
for runs in all_runs:
    row = []
    for state, end in runs:
        row += [state_code[state]] * (end - len(row))
    state_matrix.append(row)
ax = ax_px(410.7, 558.3, 786, 792.3)
sns.heatmap(np.array(state_matrix), cmap=ListedColormap(['#a9a9a9', '#0000e6', '#ff6a00', '#00a651']), vmin=0, vmax=3, cbar=False,
            xticklabels=False, yticklabels=False, ax=ax)
ax.set_xlim(-2.35, 92)
ax.vlines(np.arange(1, 92), 0, 12, color='white', alpha=0.22, lw=0.35)
ax.hlines(np.arange(1, 12), -2.35, 92, color='#3c3c3c', lw=0.7)
rows_mid = np.arange(12) + 0.5
tri = [(-0.5, -1), (0.5, 0), (-0.5, 1)]
sns.scatterplot(x=white_marks, y=rows_mid, marker=tri, s=58, color='white', edgecolor='#999999', linewidth=0.3, ax=ax, zorder=5, clip_on=False)
sns.scatterplot(x=black_marks, y=rows_mid, marker=tri, s=58, color='black', edgecolor='black', linewidth=0.3, ax=ax, zorder=5, clip_on=False)
for y, lab in zip(rows_mid, subjects):
    ax.text(-1.2, y, lab, fontsize=5.8 * FS, ha='center', va='center', color='#222222')
ax.set_xticks(e_tick_pos)
ax.set_xticklabels(e_tick_lab, rotation=0)
ax.set_yticks([])
ax.tick_params(axis='x', bottom=True, length=1.5, width=0.5, color='#555555', labelsize=5.8 * FS, pad=2, labelcolor='#222222')
ax.set_xlabel('')
ax.set_ylabel('')
frame(ax, '#8c8c8c', 0.8)
ptext(394, 668, 'Subjects', fontsize=9.4, rotation=90)
ptext(605, 818, 'Age (months after birth)', fontsize=8.2)

# panel letters
for lab, x, y in [('A', 9, 10), ('B', 383, 8), ('C', 9, 412), ('D', 7, 707), ('E', 386, 555)]:
    fig.text(x / W, 1 - y / H, lab, fontsize=13.5, color='#111111', family='Liberation Sans', ha='center', va='center')

fig.savefig('out.png', dpi=100)
